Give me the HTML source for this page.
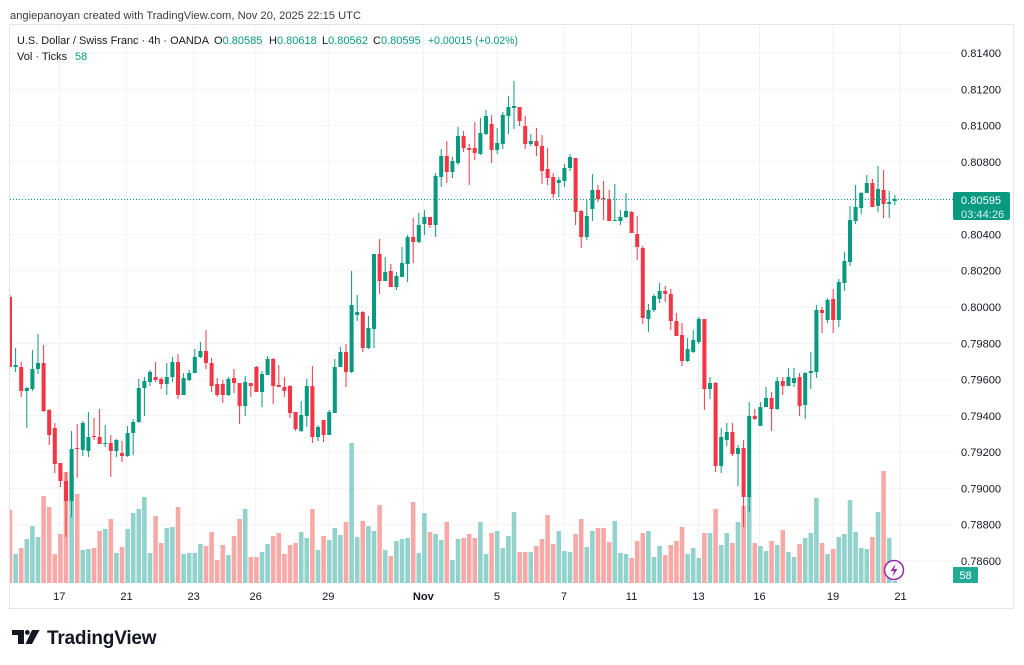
<!DOCTYPE html>
<html><head><meta charset="utf-8"><style>
html,body{margin:0;padding:0;background:#fff;width:1024px;height:665px;overflow:hidden}
svg{display:block;font-family:"Liberation Sans",Arial,sans-serif}
</style></head><body>
<svg width="1024" height="665" viewBox="0 0 1024 665" xmlns="http://www.w3.org/2000/svg">
<rect width="1024" height="665" fill="#fff"/>
<defs><clipPath id="pc"><rect x="10" y="25" width="943" height="558"/></clipPath></defs>
<text x="10" y="19" font-size="11.1" fill="#3a3a3a" textLength="351" lengthAdjust="spacing">angiepanoyan created with TradingView.com, Nov 20, 2025 22:15 UTC</text>
<rect x="9.5" y="24.5" width="1004" height="584" fill="none" stroke="#e3e5ea"/>
<g stroke="#f0f2f5" stroke-width="1">
<path d="M10 53H953M10 89.3H953M10 125.6H953M10 161.9H953M10 198.2H953M10 234.4H953M10 270.7H953M10 307H953M10 343.3H953M10 379.6H953M10 415.8H953M10 452.1H953M10 488.4H953M10 524.7H953M10 561H953"/>
<path d="M59.3 25V583M126.5 25V583M193.7 25V583M255.7 25V583M328.3 25V583M423.3 25V583M497 25V583M564 25V583M631.5 25V583M698.5 25V583M759.5 25V583M833 25V583M900.5 25V583"/>
</g>
<g clip-path="url(#pc)">
<g transform="translate(10,0) scale(5.6,1)" fill="none">
<path stroke="#92d2cc" stroke-width=".82" d="M1 554V583M3 539V583M4 526V583M5 537V583M11 475V583M13 550V583M14 549V583M17 529V583M19 553V583M21 529V583M22 513V583M23 509V583M24 497V583M25 553V583M28 528V583M29 527V583M31 554V583M32 553V583M33 553V583M34 544V583M39 555V583M42 509V583M45 552V583M46 544V583M52 532V583M53 538V583M55 550V583M57 540V583M58 528V583M59 535V583M61 443V583M62 537V583M64 526V583M65 531V583M67 550V583M69 541V583M70 539V583M71 538V583M73 553V583M74 513V583M76 534V583M77 540V583M79 560V583M80 539V583M84 522V583M85 554V583M87 531V583M88 548V583M89 536V583M90 512V583M93 552V583M98 531V583M99 551V583M100 552V583M103 547V583M104 531V583M108 521V583M109 553V583M110 554V583M114 531V583M115 557V583M116 546V583M121 554V583M122 548V583M123 558V583M125 533V583M127 545V583M128 533V583M130 522V583M132 496V583M134 546V583M135 551V583M137 545V583M139 552V583M140 557V583M142 538V583M143 533V583M144 498V583M146 554V583M148 537V583M149 534V583M150 500V583M151 532V583M152 548V583M153 549V583M155 512V583M157 538V583M158 581V583"/>
<path stroke="#f7a9a7" stroke-width=".82" d="M0 510V583M2 548V583M6 496V583M7 507V583M8 554V583M9 534V583M10 472V583M12 494V583M15 548V583M16 531V583M18 519V583M20 547V583M26 516V583M27 543V583M30 507V583M35 546V583M36 532V583M37 560V583M38 545V583M40 536V583M41 519V583M43 557V583M44 557V583M47 536V583M48 533V583M49 554V583M50 545V583M51 543V583M54 509V583M56 536V583M60 522V583M63 521V583M66 505V583M68 556V583M72 502V583M75 532V583M78 522V583M81 538V583M82 534V583M83 538V583M86 533V583M91 552V583M92 552V583M94 546V583M95 539V583M96 515V583M97 544V583M101 534V583M102 519V583M105 528V583M106 528V583M107 542V583M111 558V583M112 541V583M113 533V583M117 555V583M118 545V583M119 541V583M120 527V583M124 533V583M126 509V583M129 543V583M131 506V583M133 543V583M136 541V583M138 530V583M141 544V583M145 543V583M147 549V583M154 537V583M156 471V583"/>
<path stroke="#089981" stroke-width="1" vector-effect="non-scaling-stroke" d="M1 348V372M3 387V428M4 350V391M5 334V374M11 431V517M13 421V456M14 412V457M17 425V447M19 439V457M21 426V457M22 419V455M23 379V423M24 377V416M25 370V386M28 363V395M29 357V382M31 373V395M32 370V381M33 349V373M34 342V358M39 377V396M42 376V416M45 371V407M46 356V375M52 401V432M53 379V427M55 425V441M57 410V435M58 359V413M59 347V367M61 271V373M62 295V321M64 316V349M65 254V348M67 257V281M69 272V290M70 247V277M71 235V282M73 213V243M74 210V235M76 173V237M77 149V187M79 157V178M80 127V165M84 118V155M85 110V135M87 128V154M88 112V149M89 96V134M90 81V129M93 134V146M98 177V197M99 164V187M100 154V171M103 200V240M104 174V221M108 184V221M109 210V225M110 193V218M114 304V332M115 294V312M116 283V303M121 338V362M122 330V353M123 317V344M125 377V399M127 428V473M128 423V446M130 445V486M132 402V512M134 402V426M135 387V407M137 377V410M139 368V386M140 368V387M142 372V419M143 352V389M144 305V378M146 298V323M148 279V327M149 252V291M150 206V266M151 185V224M152 192V214M153 175V193M155 166V212M157 191V218M158 195V205"/>
<path stroke="#f23645" stroke-width="1" vector-effect="non-scaling-stroke" d="M0 295V367M2 362V397M6 345V412M7 409V445M8 423V473M9 463V487M10 472V537M12 424V478M15 418V440M16 409V444M18 435V477M20 441V462M26 362V382M27 377V389M30 354V399M35 330V369M36 358V392M37 378V397M38 380V403M40 369V393M41 383V424M43 383V397M44 366V392M47 358V404M48 365V387M49 377V397M50 385V418M51 412V431M54 366V443M56 420V442M60 344V387M63 311V352M66 239V294M68 264V287M72 218V263M75 217V228M78 141V183M81 131V152M82 144V185M83 122V160M86 115V163M91 107V126M92 116V149M94 128V156M95 135V184M96 148V185M97 173V198M101 158V225M102 210V248M105 185V202M106 181V220M107 190V221M111 211V233M112 216V260M113 246V324M117 286V302M118 289V330M119 313V336M120 323V366M124 319V410M126 382V472M129 423V456M131 440V527M133 409V420M136 392V431M138 377V395M141 373V416M145 307V333M147 289V333M154 179V207M156 170V218"/>
<path stroke="#089981" stroke-width=".72" d="M1 365V367M3 388V391M4 369V389M5 363V369M11 449V501M13 423V450M14 437V451M17 443V444M19 440V451M21 433V456M22 422V433M23 388V422M24 381V388M25 372V382M28 377V384M29 362V377M31 378V395M32 373V380M33 357V373M34 351V357M39 379V395M42 382V406M45 374V392M46 359V375M52 415V431M53 386V416M55 427V437M57 412V435M58 367V413M59 352V367M61 305V372M62 312V315M64 328V348M65 254V329M67 272V281M69 276V287M70 263V277M71 237V264M73 225V242M74 217V224M76 176V225M77 156V177M79 161V172M80 136V163M84 133V154M85 116V134M87 143V150M88 115V144M89 107V116M90 106V108M93 141V144M98 180V183M99 168V181M100 157V168M103 216V237M104 190V209M108 220V221M109 217V221M110 211V217M114 310V319M115 296V310M116 291V299M121 349V361M122 340V352M123 319V342M125 383V389M127 437V466M128 432V440M130 448V454M132 416V497M134 407V426M135 398V407M137 381V409M139 377V386M140 378V383M142 373V405M143 371V373M144 310V372M146 300V320M148 282V320M149 261V283M150 220V262M151 207V221M152 193V208M153 183V193M155 189V206M157 202V204M158 199V201"/>
<path stroke="#f23645" stroke-width=".72" d="M0 297V367M2 367V391M6 363V411M7 410V435M8 428V464M9 463V481M10 481V501M12 448V449M15 436V437M16 437V444M18 443V451M20 453V456M26 377V380M27 379V384M30 362V395M35 351V363M36 363V386M37 384V395M38 384V395M40 378V383M41 383V406M43 383V386M44 367V392M47 359V386M48 385V387M49 387V391M50 386V413M51 412V429M54 386V437M56 420V435M60 352V372M63 312V348M66 254V281M68 271V287M72 237V242M75 217V225M78 156V172M81 136V148M82 148V150M83 148V153M86 124V150M91 107V121M92 126V144M94 141V146M95 146V171M96 169V178M97 177V194M101 158V212M102 211V237M105 190V199M106 198V199M107 199V221M111 212V233M112 234V247M113 248V318M117 291V294M118 294V321M119 321V336M120 335V361M124 319V389M126 383V466M129 432V454M131 448V497M133 416V419M136 398V409M138 381V386M141 377V406M145 310V313M147 299V320M154 183V207M156 190V204"/>
</g>
</g>
<line x1="10" y1="199.5" x2="953" y2="199.5" stroke="#089981" stroke-width="1" stroke-dasharray="1 2"/>
<g font-size="11.1" fill="#131722">
<text x="961" y="57">0.81400</text>
<text x="961" y="93.3">0.81200</text>
<text x="961" y="129.6">0.81000</text>
<text x="961" y="165.9">0.80800</text>
<text x="961" y="238.4">0.80400</text>
<text x="961" y="274.7">0.80200</text>
<text x="961" y="311">0.80000</text>
<text x="961" y="347.3">0.79800</text>
<text x="961" y="383.6">0.79600</text>
<text x="961" y="419.8">0.79400</text>
<text x="961" y="456.1">0.79200</text>
<text x="961" y="492.4">0.79000</text>
<text x="961" y="528.7">0.78800</text>
<text x="961" y="565">0.78600</text>
</g>
<rect x="953" y="192" width="57" height="28" rx="2" fill="#089981"/>
<text x="961" y="204" font-size="11.1" fill="#fff">0.80595</text>
<text x="961" y="218" font-size="11.1" fill="#fff" fill-opacity="0.85">03:44:26</text>
<rect x="953" y="567" width="25" height="16" rx="1" fill="#22ab94"/>
<text x="965.5" y="579" font-size="11.1" fill="#fff" text-anchor="middle">58</text>
<circle cx="894" cy="570" r="9.5" fill="#fff" stroke="#9c27b0" stroke-width="1.5"/>
<path d="M895.5 564 L890.5 571 H894 L892.5 576.5 L897.5 569 H894 Z" fill="#9c27b0"/>
<g font-size="11.1" fill="#131722" text-anchor="middle">
<text x="59.3" y="600">17</text>
<text x="126.5" y="600">21</text>
<text x="193.7" y="600">23</text>
<text x="255.7" y="600">26</text>
<text x="328.3" y="600">29</text>
<text x="423.3" y="600" font-weight="bold">Nov</text>
<text x="497" y="600">5</text>
<text x="564" y="600">7</text>
<text x="631.5" y="600">11</text>
<text x="698.5" y="600">13</text>
<text x="759.5" y="600">16</text>
<text x="833" y="600">19</text>
<text x="900.5" y="600">21</text>
</g>
<g font-size="11" fill="#131722">
<text x="17" y="44" textLength="192" lengthAdjust="spacingAndGlyphs">U.S. Dollar / Swiss Franc · 4h · OANDA</text>
<text x="214" y="44">O<tspan fill="#089981">0.80585</tspan></text>
<text x="269" y="44">H<tspan fill="#089981">0.80618</tspan></text>
<text x="322" y="44">L<tspan fill="#089981">0.80562</tspan></text>
<text x="373" y="44">C<tspan fill="#089981">0.80595</tspan></text>
<text x="428" y="44" fill="#089981" textLength="90" lengthAdjust="spacingAndGlyphs">+0.00015 (+0.02%)</text>
<text x="17" y="60">Vol · Ticks</text>
<text x="75" y="60" fill="#089981">58</text>
</g>
<g fill="#131722">
<rect x="12" y="630" width="12" height="5"/>
<rect x="18" y="630" width="6" height="14"/>
<circle cx="27.3" cy="632.4" r="2.4"/>
<path d="M32 630 H39.5 L32 644 H25.5 Z"/>
</g>
<text x="47" y="644" font-size="19" font-weight="bold" fill="#131722" letter-spacing="-0.2">TradingView</text>
</svg>
</body></html>
